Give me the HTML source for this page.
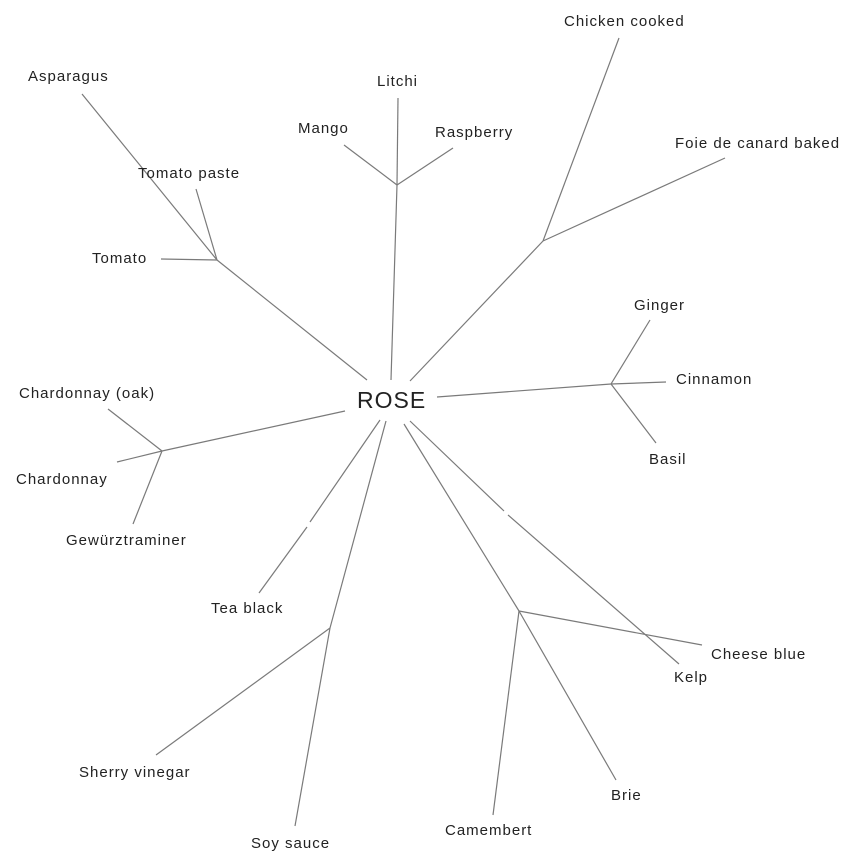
<!DOCTYPE html>
<html><head><meta charset="utf-8"><style>
html,body{margin:0;padding:0;background:#fff;}
svg{display:block;}
text{font-family:"Liberation Sans",Arial,sans-serif;font-size:15px;fill:#222;letter-spacing:1px;}
line{stroke:#7a7a7a;stroke-width:1.2;}
</style></head><body>
<svg width="858" height="864" viewBox="0 0 858 864">
<line x1="367" y1="380" x2="217" y2="260"/>
<line x1="217" y1="260" x2="82" y2="94"/>
<line x1="217" y1="260" x2="196" y2="189"/>
<line x1="217" y1="260" x2="161" y2="259"/>
<line x1="391" y1="380" x2="397" y2="185"/>
<line x1="397" y1="185" x2="398" y2="98"/>
<line x1="397" y1="185" x2="344" y2="145"/>
<line x1="397" y1="185" x2="453" y2="148"/>
<line x1="410" y1="381" x2="543" y2="241"/>
<line x1="543" y1="241" x2="619" y2="38"/>
<line x1="543" y1="241" x2="725" y2="158"/>
<line x1="437" y1="397" x2="611" y2="384"/>
<line x1="611" y1="384" x2="650" y2="320"/>
<line x1="611" y1="384" x2="666" y2="382"/>
<line x1="611" y1="384" x2="656" y2="443"/>
<line x1="345" y1="411" x2="162" y2="451"/>
<line x1="162" y1="451" x2="108" y2="409"/>
<line x1="162" y1="451" x2="117" y2="462"/>
<line x1="162" y1="451" x2="133" y2="524"/>
<line x1="380" y1="420" x2="310" y2="522"/>
<line x1="307" y1="527" x2="259" y2="593"/>
<line x1="386" y1="421" x2="330" y2="628"/>
<line x1="330" y1="628" x2="156" y2="755"/>
<line x1="330" y1="628" x2="295" y2="826"/>
<line x1="410" y1="421" x2="504" y2="511"/>
<line x1="508" y1="515" x2="679" y2="664"/>
<line x1="404" y1="424" x2="519" y2="611"/>
<line x1="519" y1="611" x2="702" y2="645"/>
<line x1="519" y1="611" x2="616" y2="780"/>
<line x1="519" y1="611" x2="493" y2="815"/>

<text x="357" y="408" style="font-size:23px">ROSE</text>
<text x="28" y="81">Asparagus</text>
<text x="138" y="178">Tomato paste</text>
<text x="92" y="263">Tomato</text>
<text x="377" y="86">Litchi</text>
<text x="298" y="133">Mango</text>
<text x="435" y="137">Raspberry</text>
<text x="564" y="26">Chicken cooked</text>
<text x="675" y="148">Foie de canard baked</text>
<text x="634" y="310">Ginger</text>
<text x="676" y="384">Cinnamon</text>
<text x="649" y="464">Basil</text>
<text x="19" y="398">Chardonnay (oak)</text>
<text x="16" y="484">Chardonnay</text>
<text x="66" y="545">Gewürztraminer</text>
<text x="211" y="613">Tea black</text>
<text x="79" y="777">Sherry vinegar</text>
<text x="251" y="848">Soy sauce</text>
<text x="711" y="659">Cheese blue</text>
<text x="674" y="682">Kelp</text>
<text x="611" y="800">Brie</text>
<text x="445" y="835">Camembert</text>
</svg>
</body></html>
